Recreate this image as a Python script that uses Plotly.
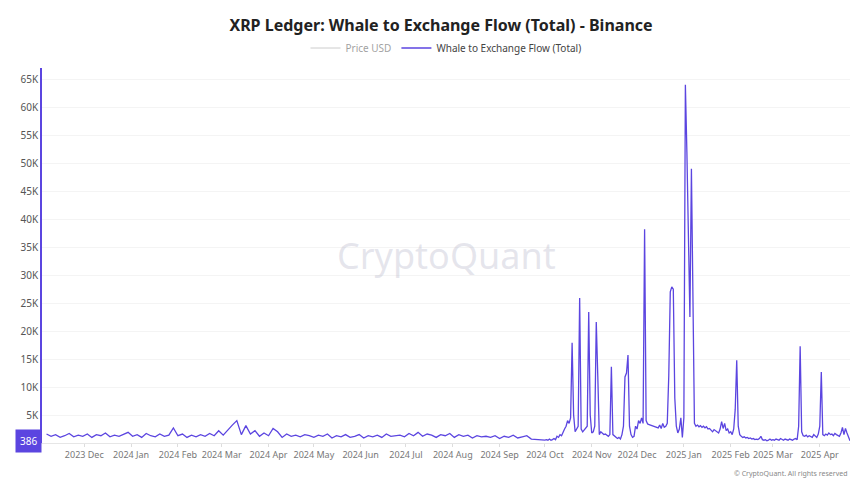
import plotly.graph_objects as go
import pandas as pd

# baseline, 3-day steps from 2023-11-06 (values in thousands)
base_k = [1.6,1.2,1.5,1.0,1.3,1.7,1.1,1.4,
 1.2,1.6,1.0,1.5,1.3,1.8,1.1,1.4,1.2,1.6,
 1.9,1.2,1.5,1.0,1.7,1.3,1.1,1.6,1.2,1.4,
 2.7,1.3,1.6,1.0,1.4,1.1,1.5,1.2,1.7,1.3,
 2.2,1.4,2.4,3.2,4.0,1.5,3.1,1.6,2.2,1.2,
 1.8,1.3,2.6,2.0,1.0,1.6,1.2,1.4,1.1,1.5,
 1.3,1.0,1.4,1.2,1.6,0.9,1.3,1.1,1.5,1.0,
 1.2,1.5,0.9,1.3,1.1,1.4,1.0,1.6,1.2,1.3,
 1.4,1.1,1.7,1.3,1.9,1.2,1.6,1.4,1.0,1.5,
 1.3,1.7,1.0,1.5,1.2,1.4,0.9,1.3,1.1,1.2,
 1.0,1.3,0.8,1.2,1.0,1.4,0.9,1.1,1.3,0.7,0.6,0.5]
base_dates = pd.date_range("2023-11-06", periods=len(base_k), freq="3D")

# daily from 2024-10-01 (thousands)
daily_k = [
 0.5,0.6,0.5,0.7,0.5,0.6,0.8,0.6,1.2,1.0,1.5,1.3,2.0,2.5,3.0,4.0,3.5,4.5,
 17.9,5.0,2.0,2.5,3.0,25.9,2.5,2.0,2.3,2.5,3.0,23.4,5.0,
 1.8,2.0,3.0,21.6,12.0,1.5,2.0,1.8,1.5,1.6,1.4,1.2,1.5,13.6,1.5,1.2,1.0,0.8,1.0,0.7,1.5,3.0,11.8,12.5,15.7,3.0,1.5,1.0,1.2,3.0,
 2.5,4.0,3.5,4.5,3.5,38.2,4.0,3.4,3.3,3.2,3.1,3.0,3.0,2.8,2.7,3.2,2.6,3.5,2.8,3.0,3.5,12.0,27.0,27.9,27.5,8.0,3.0,1.8,2.5,4.5,1.0,
 4.5,64.0,52.0,38.0,22.5,49.0,30.0,3.5,3.0,3.2,2.9,3.1,2.8,3.0,2.7,2.9,2.5,2.6,2.3,2.0,2.4,2.2,2.0,1.8,2.5,3.8,2.6,3.5,2.2,2.5,1.8,
 2.0,1.5,2.5,6.0,14.8,3.0,1.5,1.2,1.0,1.1,0.9,1.0,0.8,0.9,0.7,0.8,0.6,0.7,0.6,0.8,1.2,0.6,0.5,0.6,0.4,0.5,0.7,0.5,
 0.6,0.5,0.7,0.6,0.5,0.8,0.6,0.5,0.7,0.6,0.5,0.7,0.6,0.5,0.7,0.8,0.6,3.0,17.3,2.0,1.3,1.2,1.4,1.1,1.3,1.2,1.0,1.5,1.2,1.0,1.6,
 3.0,12.7,1.5,1.3,1.6,1.4,1.8,1.5,1.6,1.3,1.7,1.5,1.4,1.2,1.8,2.8,1.5,2.6,1.8,0.9,0.386]
daily_dates = pd.date_range("2024-10-01", periods=len(daily_k), freq="D")

dates = list(base_dates) + list(daily_dates)
values = [v * 1000 for v in base_k + daily_k]
last_value = "386"

y_ticks = [5000*i for i in range(1, 14)]
y_labels = [f"{i*5}K" for i in range(1, 14)]
x_ticks = pd.date_range("2023-12-01", "2025-04-01", freq="MS")
x_labels = [d.strftime("%Y %b") for d in x_ticks]

LINE = "#5b45e0"
fig = go.Figure()
fig.add_trace(go.Scatter(x=[dates[0]], y=[None], name="Price USD", mode="lines",
                         line=dict(color="#bbbbbb", width=1.5), visible="legendonly"))
fig.add_trace(go.Scatter(x=dates, y=values, name="Whale to Exchange Flow (Total)", mode="lines",
                         line=dict(color=LINE, width=1.3)))

fig.update_layout(
    width=866, height=488, margin=dict(l=34, r=24, t=60, b=53, autoexpand=False),
    paper_bgcolor="white", plot_bgcolor="white",
    font=dict(family="Noto Sans", color="#555", size=10),
    title=dict(text="<b>XRP Ledger: Whale to Exchange Flow (Total) - Binance</b>", x=0.5, y=0.965,
               xanchor="center", yanchor="middle", yref="container", font=dict(size=16, color="#222")),
    legend=dict(orientation="h", x=0.5, xanchor="center", y=0.918, yanchor="middle", yref="container",
                font=dict(size=10, color="#444"), itemwidth=30),
    showlegend=True,
)
fig.update_xaxes(tickvals=x_ticks, ticktext=x_labels, showgrid=False, showline=True,
                 linecolor="#e6e6e6", ticks="outside", ticklen=3, tickcolor="#ddd",
                 range=[pd.Timestamp("2023-11-03"), pd.Timestamp("2025-04-21")],
                 tickfont=dict(size=9, color="#777"))
fig.update_yaxes(tickvals=y_ticks, ticktext=y_labels, range=[0, 67000], showgrid=True,
                 gridcolor="#f4f4f4", showline=True, linecolor=LINE, linewidth=1.5,
                 zeroline=False, tickfont=dict(size=10, color="#555"))
fig.add_annotation(xref="paper", yref="y", x=0, y=386, xanchor="right", text=last_value,
                   showarrow=False, bgcolor=LINE, font=dict(color="white", size=10),
                   borderpad=4)
fig.add_annotation(xref="paper", yref="paper", x=0.5, y=0.5, text="CryptoQuant", showarrow=False,
                   font=dict(size=36, color="rgba(180,180,200,0.35)", family="Noto Sans"))
fig.add_annotation(xref="paper", yref="paper", x=1.0, y=-0.065, xanchor="right", yanchor="top",
                   text="© CryptoQuant. All rights reserved", showarrow=False,
                   font=dict(size=7, color="#888"))
fig.write_html("out.html")
